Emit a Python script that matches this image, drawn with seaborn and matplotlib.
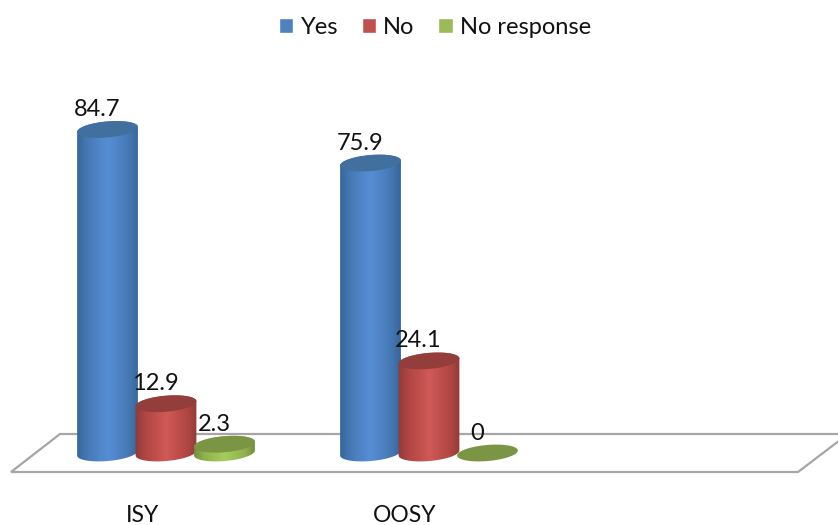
import numpy as np
import pandas as pd
import matplotlib
matplotlib.use("Agg")
import matplotlib.pyplot as plt
from matplotlib.colors import LinearSegmentedColormap
from matplotlib.patches import Polygon
import seaborn as sns

# Survey results by youth group (percent)
groups = ["ISY", "OOSY", " "]
responses = ["Yes", "No", "No response"]
yes_values = [84.7, 75.9, np.nan]
no_values = [12.9, 24.1, np.nan]
no_response_values = [2.3, 0, np.nan]

legend_colors = ["#4F81BD", "#C0504D", "#9BBB59"]
shades = {
    "Yes": ["#34639A", "#4578B2", "#4F83C6", "#568ED5", "#4F83C6", "#4578B2", "#34639A"],
    "No": ["#8F3A38", "#B04744", "#C04F4C", "#D05A57", "#C04F4C", "#B04744", "#8F3A38"],
    "No response": ["#6F8A3A", "#8FB04E", "#9BC052", "#A5CC5C", "#9BC052", "#8FB04E", "#6F8A3A"],
}
top_colors = {"Yes": "#41709F", "No": "#943E3B", "No response": "#7A9645"}

W, H = 838, 525
PX_PER_UNIT = 3.82
BASE_PX = 453
GROUP_STEP = 263
FIRST_GROUP_PX = 166
CAP_RX, CAP_RY, CAP_TILT = 30.5, 8.0, np.deg2rad(5)
TEXT_COLOR = "#111111"

sns.set_theme(style="white", rc={"axes.facecolor": "white"})
plt.rcParams["font.family"] = ["Lato", "DejaVu Sans"]

table = pd.DataFrame({
    "group": np.tile(groups, len(responses)),
    "response": np.repeat(responses, len(groups)),
    "value": yes_values + no_values + no_response_values,
})

fig = plt.figure(figsize=(W / 100, H / 100), dpi=100)
ax = fig.add_axes([0, 0, 1, 1])
sns.barplot(data=table, x="group", y="value", hue="response", hue_order=responses,
            palette=legend_colors, width=0.667, gap=0, saturation=1,
            errorbar=None, ax=ax)
xlim = (-FIRST_GROUP_PX / GROUP_STEP, (W - FIRST_GROUP_PX) / GROUP_STEP)
ylim = ((BASE_PX - H) / PX_PER_UNIT, BASE_PX / PX_PER_UNIT)
ax.set_xlim(xlim)
ax.set_ylim(ylim)
ax.axis("off")


def px_x(d):
    return FIRST_GROUP_PX + d * GROUP_STEP


def to_data(px, py):
    return (np.asarray(px) - FIRST_GROUP_PX) / GROUP_STEP, (BASE_PX - np.asarray(py)) / PX_PER_UNIT


def arc(cx, cy, t):
    # Tilted ellipse outline, rising towards the right
    ex = CAP_RX * np.cos(t)
    ey = CAP_RY * np.sin(t)
    return (cx + ex * np.cos(CAP_TILT) - ey * np.sin(CAP_TILT),
            cy - ex * np.sin(CAP_TILT) - ey * np.cos(CAP_TILT))


# Floor of the chart
floor_x, floor_y = to_data([11, 60, 848, 798], [472, 434, 434, 472])
ax.add_patch(Polygon(np.c_[floor_x, floor_y], closed=True, facecolor="white",
                     edgecolor="#A6A6A6", linewidth=1.6, zorder=1))

# Replace each flat bar with a shaded cylinder sized from the bar itself
order = 0
for response, container in zip(responses, ax.containers):
    cmap = LinearSegmentedColormap.from_list(response, shades[response])
    for bar in container:
        value = bar.get_height()
        bar.set_visible(False)
        if not np.isfinite(value):
            continue
        cx = px_x(bar.get_x() + bar.get_width() / 2)
        top_py = BASE_PX - value * PX_PER_UNIT
        order += 1
        z = 2 + order * 0.01
        if value > 0:
            low = np.linspace(np.pi, 2 * np.pi, 50)
            high = np.linspace(0, np.pi, 50)
            bx, by = arc(cx, BASE_PX, low)
            tx, ty = arc(cx, top_py, high)
            dx, dy = to_data(np.r_[bx, tx], np.r_[by, ty])
            clip = Polygon(np.c_[dx, dy], closed=True, transform=ax.transData,
                           facecolor="none", edgecolor="none")
            ax.add_patch(clip)
            e_x, _ = to_data([cx - CAP_RX - 1, cx + CAP_RX + 1], [0, 0])
            e_y = to_data(0, [BASE_PX + 12, top_py - 12])[1]
            img = ax.imshow(np.linspace(0, 1, 128)[None, :], cmap=cmap, aspect="auto",
                            extent=[e_x[0], e_x[1], e_y[0], e_y[1]], zorder=z)
            img.set_clip_path(clip)
        cap_x, cap_y = arc(cx, top_py, np.linspace(0, 2 * np.pi, 100))
        ax.add_patch(Polygon(np.c_[to_data(cap_x, cap_y)], closed=True,
                             facecolor=top_colors[response], edgecolor="none", zorder=z + 0.001))
        ax.annotate(f"{value:g}", xy=(bar.get_x() + bar.get_width() / 2, value),
                    xytext=(-10.5 * 0.72, 20 * 0.72), textcoords="offset points",
                    ha="center", va="center", fontsize=17, color=TEXT_COLOR, zorder=5)

ax.set_xlim(xlim)
ax.set_ylim(ylim)

# Group names sit under the floor, slightly left of their bars
for i, name in enumerate(groups[:2]):
    ax.annotate(name, xy=(i, to_data(0, 516)[1]), xytext=(-24 * 0.72, 0),
                textcoords="offset points", ha="center", va="center",
                fontsize=16.5, color=TEXT_COLOR)

handles, labels = ax.get_legend_handles_labels()
ax.legend(handles, labels, ncol=3, loc="center", bbox_to_anchor=(435 / W, 1 - 27 / H),
          frameon=False, fontsize=17, handlelength=0.62, handleheight=0.62,
          handletextpad=0.3, columnspacing=1.0, labelcolor=TEXT_COLOR)

fig.savefig("out.png", dpi=100)
